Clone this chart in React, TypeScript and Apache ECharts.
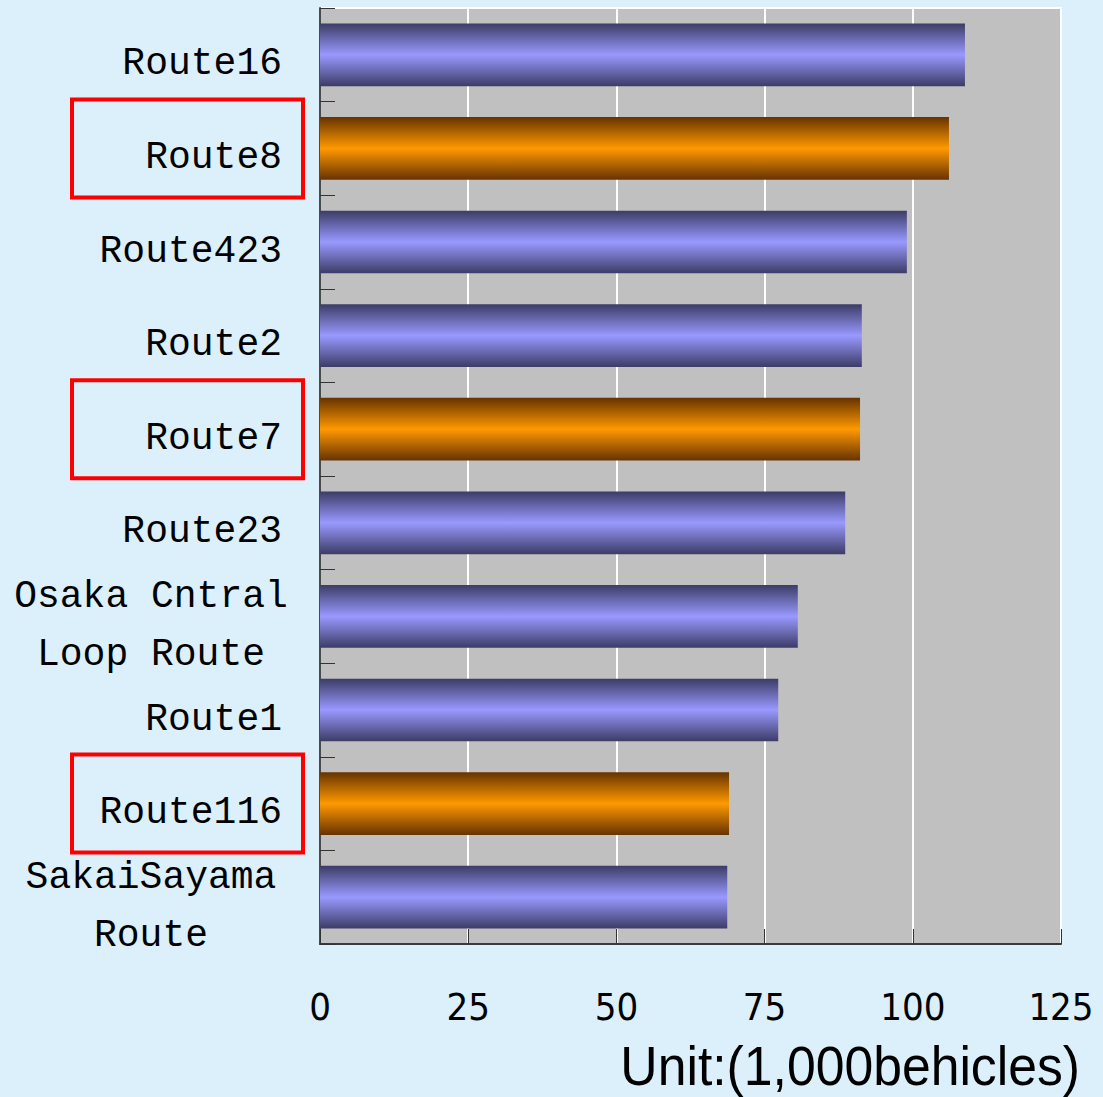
import React, { useEffect, useRef } from "react";
import * as echarts from "echarts";

const categories = [
  "Route16",
  "Route8",
  "Route423",
  "Route2",
  "Route7",
  "Route23",
  "Osaka Cntral\nLoop Route",
  "Route1",
  "Route116",
  "SakaiSayama\nRoute",
];
const values = [108.8, 106.1, 99.0, 91.4, 91.1, 88.6, 80.6, 77.3, 69.0, 68.7];
const highlighted = ["Route8", "Route7", "Route116"];
const xMin = 0;
const xMax = 125;
const xInterval = 25;
const unitLabel = "Unit:(1,000behicles)";

const catFont = "'Liberation Mono', 'DejaVu Sans Mono', monospace";
const numFont = "'Liberation Sans Narrow', 'DejaVu Sans Condensed', 'Liberation Sans', sans-serif";

const blueGrad = () =>
  new echarts.graphic.LinearGradient(0, 0, 0, 1, [
    { offset: 0, color: "#3c3c66" },
    { offset: 0.5, color: "#9999ff" },
    { offset: 1, color: "#3c3c66" },
  ]);
const orangeGrad = () =>
  new echarts.graphic.LinearGradient(0, 0, 0, 1, [
    { offset: 0, color: "#663300" },
    { offset: 0.5, color: "#ff9900" },
    { offset: 1, color: "#663300" },
  ]);

export default function App() {
  const ref = useRef<HTMLDivElement>(null);
  useEffect(() => {
    if (!ref.current) return;
    const chart = echarts.init(ref.current, undefined, { renderer: "svg" });
    chart.setOption({
      animation: false,
      backgroundColor: "#dcf0fb",
      grid: {
        left: 320,
        right: 42,
        top: 8,
        bottom: 153,
        show: true,
        backgroundColor: "#c0c0c0",
        borderColor: "#ffffff",
        borderWidth: 2,
      },
      xAxis: {
        type: "value",
        min: xMin,
        max: xMax,
        interval: xInterval,
        axisLine: { show: true, lineStyle: { color: "#3a3a3a", width: 2 } },
        axisTick: { show: true, inside: true, length: 15, lineStyle: { color: "#333", width: 1 } },
        splitLine: { show: true, lineStyle: { color: "#ffffff", width: 2 } },
        axisLabel: {
          margin: 44,
          color: "#000",
          fontFamily: numFont,
          fontSize: 38,
        },
      },
      yAxis: {
        type: "category",
        inverse: true,
        data: categories,
        axisLine: { show: true, lineStyle: { color: "#4a4a4a", width: 2 } },
        axisTick: { show: true, inside: true, length: 15, lineStyle: { color: "#333", width: 1 } },
        splitLine: { show: false },
        axisLabel: {
          interval: 0,
          margin: 38,
          color: "#000",
          fontFamily: catFont,
          fontSize: 38,
          lineHeight: 58,
          padding: [18, 0, 0, 0],
          formatter: (v: string) =>
            v.indexOf("\n") >= 0
              ? v
                  .split("\n")
                  .map((s) => `{c|${s}}`)
                  .join("\n")
              : `{r|${v}}`,
          rich: {
            c: { width: 262, align: "center", fontFamily: catFont, fontSize: 38, lineHeight: 58, color: "#000" },
            r: { fontFamily: catFont, fontSize: 38, lineHeight: 58, color: "#000" },
          },
        },
      },
      series: [
        {
          type: "bar",
          barCategoryGap: "33%",
          data: values.map((v, i) => ({
            value: v,
            itemStyle: { color: highlighted.indexOf(categories[i]) >= 0 ? orangeGrad() : blueGrad() },
          })),
        },
      ],
    });

    const boxes = highlighted.map((name) => {
      const cy = chart.convertToPixel({ yAxisIndex: 0 }, name) as number;
      return {
        type: "rect",
        shape: { x: 72, y: cy - 49, width: 231, height: 98 },
        style: { fill: "none", stroke: "#ff0000", lineWidth: 4 },
        z: 10,
      };
    });
    chart.setOption({
      graphic: [
        ...boxes,
        {
          type: "text",
          x: 1080,
          y: 1066,
          scaleX: 0.94,
          style: {
            text: unitLabel,
            fill: "#000",
            font: "55px 'Liberation Sans', Arial, sans-serif",
            align: "right",
            verticalAlign: "middle",
          },
          z: 10,
        },
      ],
    });
    return () => chart.dispose();
  }, []);
  return <div ref={ref} style={{ position: "fixed", left: 0, top: 0, width: 1103, height: 1097 }} />;
}
